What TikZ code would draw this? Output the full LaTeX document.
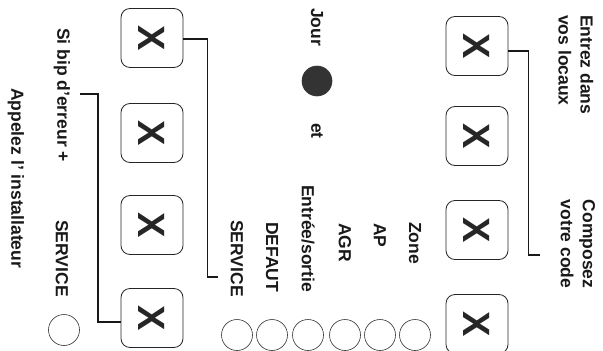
\documentclass[tikz,border=0pt]{standalone}
\usepackage{fontspec}
\setmainfont{Liberation Sans}
\begin{document}
\begin{tikzpicture}[x=1pt,y=-1pt,
  key/.style={draw=black!85, line width=0.8pt, rounded corners=9pt,
    minimum width=62pt, minimum height=59pt, inner sep=0pt,
    font=\fontsize{38}{38}\selectfont\bfseries, text=black!85},
  lbl/.style={font=\fontsize{17.5}{22}\selectfont\bfseries, text=black!90,
    inner sep=0pt, rotate=-90},
  led/.style={circle, draw=black!80, line width=0.6pt, minimum size=31pt, inner sep=0pt},
  wire/.style={line width=1.8pt, draw=black!90}]
\useasboundingbox[fill=white] (0,0) rectangle (603,351);

% keys, right column
\node[key] (R1) at (477,46) {\rotatebox[origin=c]{-90}{X}};
\node[key] (R2) at (477,136) {\rotatebox[origin=c]{-90}{X}};
\node[key] (R3) at (477,230) {\rotatebox[origin=c]{-90}{X}};
\node[key] (R4) at (477,324) {\rotatebox[origin=c]{-90}{X}};
% keys, left column
\node[key] (L1) at (152,38) {\rotatebox[origin=c]{-90}{X}};
\node[key] (L2) at (152,133) {\rotatebox[origin=c]{-90}{X}};
\node[key] (L3) at (152,225) {\rotatebox[origin=c]{-90}{X}};
\node[key] (L4) at (152,318) {\rotatebox[origin=c]{-90}{X}};

% texts, right
\node[lbl, align=left, anchor=west] (entrez) at (576,15) {Entrez dans\\vos locaux};
\node[lbl, align=center] (compo) at (578,244) {Composez\\votre code};
\coordinate (rc) at (540,255);
\draw[wire] ([yshift=-5pt]R1.east) -- ++(20,0) |- (rc);

% day indicator
\node[lbl, anchor=west] (jour) at (317,8) {Jour};
\node[led, fill=black!80, minimum size=30pt] (jled) at (317,81) {};
\node[lbl, anchor=west] (et) at (317,123) {et};

% LED labels
\node[lbl, anchor=west] (zone) at (415,222) {Zone};
\node[lbl, anchor=west] (ap) at (380,223) {AP};
\node[lbl, anchor=west] (agr) at (345,223) {AGR};
\node[lbl, anchor=west] (es) at (308,185) {Entrée/sortie};
\node[lbl, anchor=west] (def) at (272,222) {DEFAUT};
\node[lbl, anchor=west] (serv) at (237,220) {SERVICE};

% LEDs
\node[led] (c1) at (415,335) {};
\node[led] (c2) at (380,335) {};
\node[led] (c3) at (345,335) {};
\node[led] (c4) at (308,335) {};
\node[led] (c5) at (272,335) {};
\node[led] (c6) at (237,335) {};

% left side
\coordinate (lc1) at (218,277);
\draw[wire] ([yshift=-1pt]L1.east) -- ++(24,0) |- (lc1);
\coordinate (lc2) at (80,94);
\draw[wire] ([yshift=-4pt]L4.west) -- ++(-23,0) |- (lc2);

\node[lbl, anchor=west] (sibip) at (62,28) {Si bip d'erreur +};
\node[lbl, anchor=west] (serv2) at (62,220) {SERVICE};
\node[led] (c7) at (64,330) {};
\node[lbl, anchor=west] (appel) at (16,88) {Appelez l' installateur};
\end{tikzpicture}
\end{document}
